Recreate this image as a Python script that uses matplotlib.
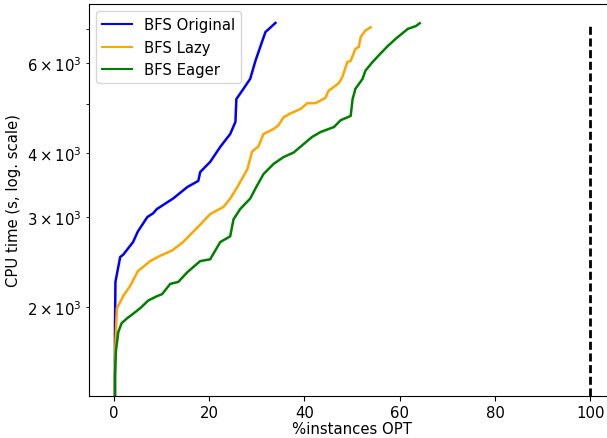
import matplotlib
matplotlib.use("Agg")
import matplotlib.pyplot as plt

# % instances solved to optimality vs cpu time (s)
orig_x = [0.2, 0.2, 0.3, 1.3, 1.9, 4.0, 5.0, 7.0, 8.2, 9.0, 12.4, 15.4, 17.7, 18.1,
          20.2, 22.3, 24.4, 25.5, 25.7, 26.9, 28.6, 29.7, 30.7, 31.8, 33.9]
orig_y = [1340, 1800, 2240, 2506, 2530, 2680, 2810, 3000, 3050, 3110, 3260, 3434, 3530, 3673,
          3846, 4113, 4360, 4605, 5105, 5296, 5590, 6060, 6450, 6900, 7190]

lazy_x = [0.2, 0.2, 0.6, 1.3, 1.9, 3.4, 5.0, 7.6, 9.7, 12.2, 14.5, 17.5, 20.2, 23.0, 24.4,
          25.9, 28.0, 29.0, 30.3, 31.4, 33.5, 34.5, 35.6, 37.0, 39.2, 40.6, 42.3, 44.4, 45.0,
          47.2, 48.0, 49.0, 49.7, 50.7, 51.4, 51.8, 52.8, 53.9]
lazy_y = [1340, 1600, 1990, 2045, 2100, 2200, 2350, 2460, 2520, 2580, 2680, 2860, 3040, 3140, 3260,
          3434, 3720, 4030, 4120, 4360, 4460, 4530, 4700, 4780, 4883, 5010, 5010, 5130, 5290,
          5480, 5650, 6030, 6060, 6400, 6450, 6750, 6950, 7050]

eager_x = [0.2, 0.2, 0.4, 0.9, 1.6, 2.7, 4.0, 5.5, 7.2, 9.0, 10.1, 11.8, 13.5, 15.4, 18.1,
           20.2, 22.3, 24.4, 25.1, 26.5, 28.6, 29.7, 31.4, 33.5, 35.6, 37.7, 39.2, 41.6, 43.4,
           46.2, 47.6, 49.7, 50.1, 50.7, 52.2, 52.8, 54.3, 56.0, 57.5, 59.2, 61.7, 63.4, 64.2]
eager_y = [1340, 1466, 1640, 1787, 1860, 1900, 1940, 1990, 2060, 2100, 2120, 2220, 2240, 2340, 2460,
           2480, 2680, 2750, 2970, 3110, 3260, 3410, 3641, 3810, 3930, 4010, 4120, 4303, 4400,
           4500, 4640, 4730, 5100, 5345, 5590, 5800, 6030, 6270, 6480, 6700, 7000, 7090, 7180]

plt.rcParams["font.size"] = 10.7

fig = plt.figure(figsize=(6.07, 4.39), dpi=100)
ax = fig.add_axes([89 / 607, 42 / 439, 525 / 607, 392 / 439])

ax.plot(orig_x, orig_y, color="blue", linewidth=1.8, label="BFS Original")
ax.plot(lazy_x, lazy_y, color="orange", linewidth=1.8, label="BFS Lazy")
ax.plot(eager_x, eager_y, color="green", linewidth=1.8, label="BFS Eager")

top = max(orig_y + lazy_y + eager_y)
ax.plot([100, 100], [1340, top], color="black", linestyle="--", dashes=(2.9, 1.3), linewidth=2)

ax.set_yscale("log")
ax.set_ylim(1340, 7830)
ax.set_xlim(-5.25, 105)
ax.set_xticks([0, 20, 40, 60, 80, 100])
ax.tick_params(axis="x", pad=3)
ax.set_xlabel("%instances OPT", labelpad=1)
ax.set_ylabel("CPU time (s, log. scale)")
leg = ax.legend(loc="upper left")
for l in leg.get_lines():
    l.set_linewidth(1.5)

fig.savefig("out.png", dpi=100)
